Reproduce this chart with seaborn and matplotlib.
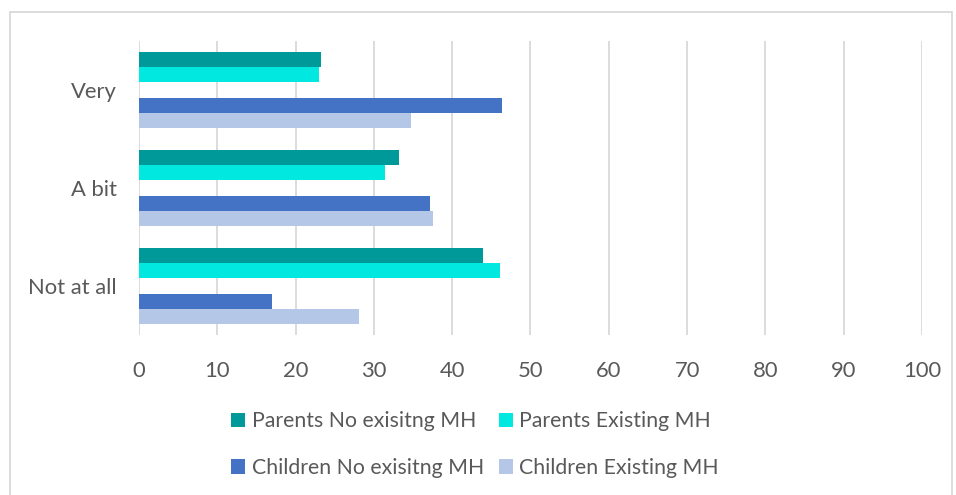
import pandas as pd
import matplotlib.pyplot as plt
import seaborn as sns
from matplotlib.patches import Rectangle, Patch

# Values
categories = ['Very', 'A bit', 'Not at all']
parents_no = [23.3, 33.2, 43.9]
parents_existing = [23.0, 31.4, 46.1]
children_no = [46.4, 37.2, 17.0]
children_existing = [34.8, 37.5, 28.1]

series_names = ['Parents No exisitng MH', 'Parents Existing MH',
                'Children No exisitng MH', 'Children Existing MH']
series_colors = ['#009999', '#00E8E0', '#4472C4', '#B4C7E7']

rows = []
for name, vals in zip(series_names, [parents_no, parents_existing, children_no, children_existing]):
    for cat, v in zip(categories, vals):
        rows.append({'category': cat, 'series': name, 'value': v})
# empty slot between parents and children bars
for cat in categories:
    rows.append({'category': cat, 'series': ' ', 'value': 0.0})
df = pd.DataFrame(rows)

hue_order = series_names[:2] + [' '] + series_names[2:]
palette = dict(zip(series_names, series_colors))
palette[' '] = '#FFFFFF'

sns.set_style('white')
plt.rcParams['font.family'] = ['Lato', 'DejaVu Sans']

fig = plt.figure(figsize=(9.56, 4.95), dpi=100)
ax = fig.add_axes([0.1454, 0.3232, 0.8190, 0.5940])

sns.barplot(data=df, y='category', x='value', hue='series', hue_order=hue_order,
            order=categories, palette=palette, orient='h', width=0.78,
            saturation=1, linewidth=0, legend=False, ax=ax)

ax.set_xlim(0, 100)
ax.set_xticks(range(0, 101, 10))
ax.xaxis.grid(True, color='#D9D9D9', linewidth=1.3)
ax.set_axisbelow(True)
for s in ax.spines.values():
    s.set_visible(False)
ax.set_xlabel('')
ax.set_ylabel('')
ax.tick_params(axis='both', length=0, labelsize=15.8, colors='#595959')
ax.tick_params(axis='x', pad=19)
ax.tick_params(axis='y', pad=16)

# chart border (bottom edge runs off the picture)
fig.patches.append(Rectangle((10 / 956, -0.02), 942 / 956, 1.02 - 12 / 495,
                             transform=fig.transFigure, fill=False,
                             edgecolor='#D9D9D9', linewidth=1.3))

handles = [Patch(facecolor=palette[n], edgecolor='none') for n in series_names]
order = [0, 2, 1, 3]
fig.legend([handles[i] for i in order], [series_names[i] for i in order],
           loc='center', bbox_to_anchor=(0.497, 0.102), ncol=2, frameon=False,
           fontsize=15.3, labelcolor='#595959', handlelength=0.67, handleheight=0.67,
           handletextpad=0.3, columnspacing=0.7, labelspacing=1.25)

fig.savefig('out.png', dpi=100)
